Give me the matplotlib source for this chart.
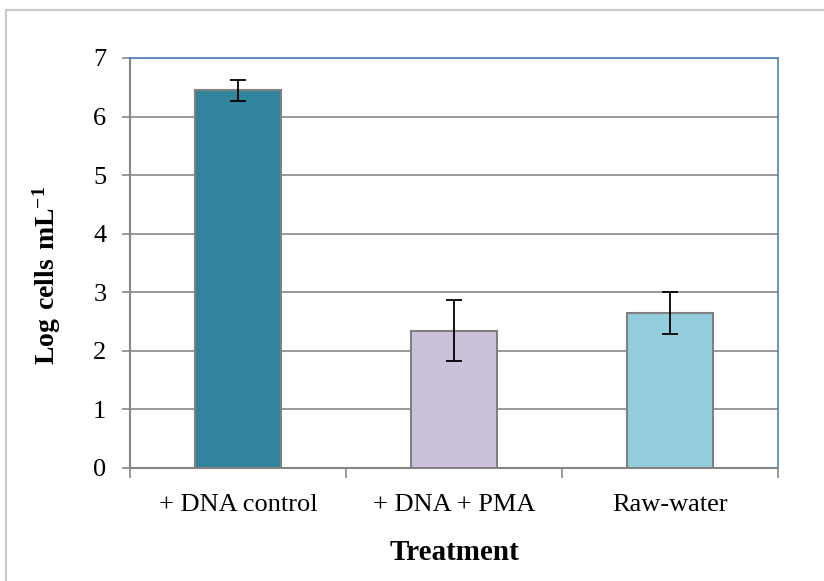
import matplotlib.pyplot as plt
from matplotlib.patches import Rectangle

treatments = ['+ DNA control', '+ DNA + PMA', 'Raw-water']
log_cells = [6.45, 2.34, 2.65]
errors = [0.18, 0.52, 0.36]
colors = ['#31849B', '#CCC1DA', '#93CDDD']

plt.rcParams['font.family'] = ['Liberation Serif']
plt.rcParams['mathtext.fontset'] = 'custom'
plt.rcParams['mathtext.rm'] = 'Liberation Serif'
plt.rcParams['mathtext.bf'] = 'Liberation Serif:bold'

fig = plt.figure(figsize=(8.24, 5.81), dpi=100)
ax = fig.add_axes([130/824, 1-468/581, 648/824, 410/581])

# chart area frame (cut by the screenshot on right and bottom)
fig.patches.append(Rectangle((6/824, -0.1), 1.1, 1 - 10/581 + 0.1,
                             transform=fig.transFigure, fill=False,
                             edgecolor='#c8c8c8', linewidth=1.5))

x = range(len(treatments))
ax.bar(x, log_cells, width=0.4, color=colors, edgecolor='#808080',
       linewidth=1.5, zorder=3)
ax.errorbar(x, log_cells, yerr=errors, fmt='none', ecolor='black',
            elinewidth=1.3, capsize=6, capthick=1.3, zorder=4)

ax.set_xlim(-0.5, 2.5)
ax.set_ylim(0, 7)
ax.set_yticks(range(0, 8))
ax.yaxis.grid(True, color='#868686', linewidth=1.2, zorder=0)
ax.set_axisbelow(True)

ax.set_xticks(x)
ax.set_xticklabels(treatments, fontsize=19)
ax.tick_params(axis='x', length=0, pad=18.5)
ax.set_xticks([-0.5, 0.5, 1.5, 2.5], minor=True)
ax.tick_params(axis='x', which='minor', length=7, color='#868686', width=1.2)
ax.tick_params(axis='y', labelsize=19, length=6, color='#868686', width=1.2, pad=11)

for side in ['left', 'bottom']:
    ax.spines[side].set_color('#868686')
    ax.spines[side].set_linewidth(1.5)
for side in ['top', 'right']:
    ax.spines[side].set_color('#4F81BD')
    ax.spines[side].set_linewidth(1.2)

ax.set_xlabel('Treatment', fontsize=21, fontweight='bold', labelpad=17)
ax.set_ylabel(r'$\mathbf{Log\ cells\ mL^{-1}}$', fontsize=20)
ax.yaxis.set_label_coords(-67/648, 0.47)

fig.savefig('out.png', dpi=100)
